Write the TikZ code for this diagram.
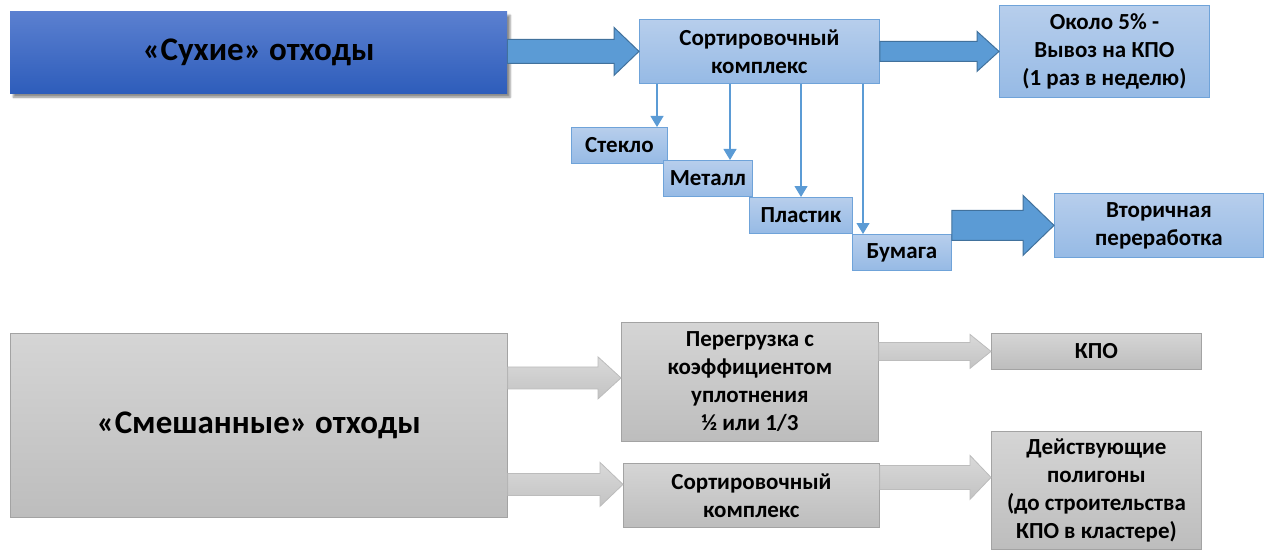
\documentclass[tikz,border=0pt]{standalone}
\usepackage{fontspec}
\setmainfont{Carlito}
\usetikzlibrary{arrows.meta, calc, shadows.blur}
\definecolor{darkblueA}{HTML}{5B80D0}
\definecolor{darkblueB}{HTML}{2E5DBB}
\definecolor{lightblueA}{HTML}{B7CEEC}
\definecolor{lightblueB}{HTML}{96BAE5}
\definecolor{boxline}{HTML}{6FA3D9}
\definecolor{arrowblue}{HTML}{5B9BD5}
\definecolor{arrowline}{HTML}{41719C}
\definecolor{grayA}{HTML}{D5D5D5}
\definecolor{grayB}{HTML}{BDBDBD}
\definecolor{grayline}{HTML}{A3A3A3}
\definecolor{garrowA}{HTML}{D9D9D9}
\definecolor{garrowB}{HTML}{C3C3C3}
\definecolor{garrowline}{HTML}{BCBCBC}
\tikzset{
every node/.style={font=\bfseries\fontsize{23}{28}\selectfont, align=center, inner sep=0pt, anchor=north west}, % boxes are placed by their top left corner
bigtext/.style={font=\bfseries\fontsize{33}{40}\selectfont},
drybox/.style={bigtext, top color=darkblueA, bottom color=darkblueB, blur shadow={shadow xshift=3pt, shadow yshift=-4pt, shadow opacity=45}},
bluebox/.style={draw=boxline, line width=0.8pt, top color=lightblueA, bottom color=lightblueB},
graybox/.style={draw=grayline, line width=0.8pt, top color=grayA, bottom color=grayB},
bluearrow/.style={fill=arrowblue, draw=arrowline, line width=1pt},
grayarrow/.style={top color=garrowA, bottom color=garrowB, draw=garrowline, line width=0.8pt},
thinarr/.style={draw=arrowblue, line width=1.2pt, -{Triangle[length=11pt,width=13pt]}}, % thin lines to the sorted fractions
}
% block arrow: style, start, tip, half shaft, half head, head length
\newcommand{\blockarrow}[6]{%
  \path[#1] let \p1=(#2), \p2=(#3) in
    (\x1,\y1-#4pt) -- (\x2-#6pt,\y1-#4pt) -- (\x2-#6pt,\y1-#5pt) -- (\x2,\y1)
    -- (\x2-#6pt,\y1+#5pt) -- (\x2-#6pt,\y1+#4pt) -- (\x1,\y1+#4pt) -- cycle;}

\begin{document}
\begin{tikzpicture}[x=1pt, y=-1pt]
    \useasboundingbox (0,0) rectangle (1264,559);
    % dry waste
    \node[drybox, minimum width=497pt, minimum height=82pt] (dry) at (10,11) {«Сухие» отходы};
    \node[bluebox, minimum width=240pt, minimum height=64pt] (sort) at (639,19) {Сортировочный\\комплекс};
    \node[bluebox, minimum width=210pt, minimum height=92pt] (out5) at (999,5) {Около 5\% -\\Вывоз на КПО\\(1 раз в неделю)};
    \node[bluebox, minimum width=96pt, minimum height=36pt] (glass) at (571,127) {Стекло};
    \node[bluebox, minimum width=89pt, minimum height=36pt] (metal) at (663,160) {Металл};
    \node[bluebox, minimum width=103pt, minimum height=36pt] (plast) at (749,197) {Пластик};
    \node[bluebox, minimum width=99pt, minimum height=36pt] (paper) at (852,234) {Бумага};
    \node[bluebox, minimum width=209pt, minimum height=64pt] (recyc) at (1054,193) {Вторичная\\переработка};

    \blockarrow{bluearrow}{dry.east |- sort.west}{sort.west}{12}{24}{25}
    \blockarrow{bluearrow}{sort.east}{out5.west |- sort.east}{10}{20}{22}
    \blockarrow{bluearrow}{paper.east |- recyc.west}{recyc.west}{15}{30}{31}
    \foreach \dx/\b in {18/glass, 91/metal, 162/plast, 224/paper}{
      \coordinate (t) at ($(sort.south west)+(\dx,0)$);
      \draw[thinarr] (t) -- (t |- \b.north);
    }

    % mixed waste
    \node[graybox, bigtext, minimum width=497pt, minimum height=184pt] (mixed) at (10,333) {«Смешанные» отходы};
    \node[graybox, minimum width=257pt, minimum height=119pt] (reload) at (621,322) {Перегрузка с\\коэффициентом\\уплотнения\\½ или 1/3};
    \node[graybox, minimum width=256pt, minimum height=64pt] (sort2) at (623,463) {Сортировочный\\комплекс};
    \node[graybox, minimum width=210pt, minimum height=36pt] (kpo) at (991,333) {КПО};
    \node[graybox, minimum width=210pt, minimum height=118pt] (landf) at (991,431) {Действующие\\полигоны\\(до строительства\\КПО в кластере)};

    \coordinate (m1) at ($(reload.west)+(0,-4)$);
    \coordinate (m2) at ($(sort2.west)+(0,-11)$);
    \coordinate (m3) at ($(landf.west)+(0,-13)$);
    \blockarrow{grayarrow}{mixed.east |- m1}{m1}{11}{21}{23}
    \blockarrow{grayarrow}{mixed.east |- m2}{m2}{11}{22}{23}
    \blockarrow{grayarrow}{reload.east |- kpo.west}{kpo.west}{9}{17}{21}
    \blockarrow{grayarrow}{sort2.east |- m3}{m3}{12}{22}{21}
\end{tikzpicture}
\end{document}
